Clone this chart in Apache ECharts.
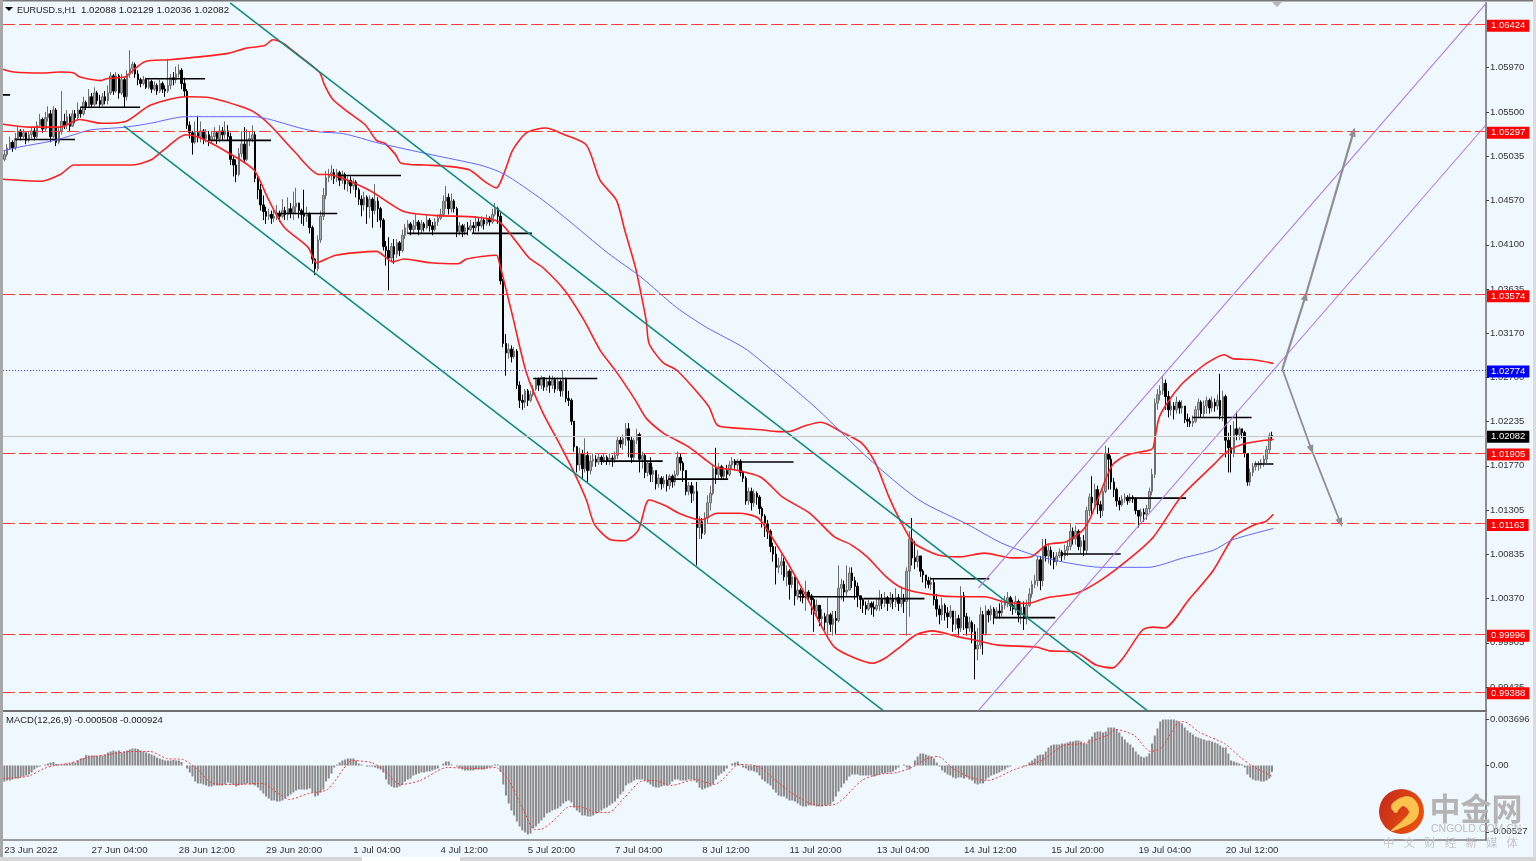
<!DOCTYPE html>
<html>
<head>
<meta charset="utf-8">
<title>EURUSD.s H1</title>
<script src="https://cdn.jsdelivr.net/npm/echarts@6/dist/echarts.min.js"></script>
<style>html,body{margin:0;padding:0;background:#f0f8ff}#chart{width:1536px;height:861px}</style>
</head>
<body>
<div id="chart"></div>
<script>
// Prices are written in pips (1.0208 -> 10208); MACD in units of MACD_UNIT.
const PIP = 0.0001;
const MACD_UNIT = 0.0000795;
const firstOpen = 10500;

const timeLabels = ['23 Jun 2022','27 Jun 04:00','28 Jun 12:00','29 Jun 20:00','1 Jul 04:00','4 Jul 12:00','5 Jul 20:00','7 Jul 04:00','8 Jul 12:00','11 Jul 20:00','13 Jul 04:00','14 Jul 12:00','15 Jul 20:00','19 Jul 04:00','20 Jul 12:00'];
const priceTicks = [1.05970,1.05500,1.05035,1.04570,1.04100,1.03635,1.03170,1.02700,1.02235,1.01770,1.01305,1.00835,1.00370,0.99905,0.99435];
const macdTicks = [0.003696,0,-0.00527];

const closes = [
10505,10512,10518,10512,10522,10530,10524,10528,10520,10526,
10530,10524,10536,10542,10532,10544,10548,10524,10552,10518,
10530,10540,10536,10545,10535,10548,10544,10552,10548,10560,
10556,10566,10558,10570,10562,10558,10566,10562,10570,10588,
10572,10588,10570,10584,10566,10590,10596,10600,10590,10584,
10580,10584,10576,10582,10574,10578,10572,10580,10574,10572,
10578,10586,10584,10590,10594,10580,10572,10536,10528,10518,
10528,10524,10530,10522,10526,10520,10524,10528,10522,10530,
10526,10530,10524,10500,10494,10484,10506,10516,10500,10520,
10522,10526,10480,10468,10452,10445,10440,10442,10438,10440,
10443,10440,10446,10442,10448,10444,10450,10454,10446,10442,
10440,10442,10428,10395,10385,10415,10440,10462,10481,10484,
10486,10480,10486,10478,10484,10474,10478,10472,10476,10468,
10458,10452,10460,10450,10458,10446,10456,10448,10436,10408,
10404,10396,10408,10400,10412,10404,10420,10428,10432,10426,
10430,10434,10426,10432,10428,10436,10430,10426,10434,10438,
10442,10456,10460,10448,10456,10448,10424,10430,10424,10428,
10426,10430,10428,10434,10430,10436,10432,10438,10434,10442,
10448,10440,10372,10306,10296,10300,10292,10298,10262,10246,
10244,10256,10246,10252,10258,10268,10262,10270,10260,10266,
10262,10268,10258,10266,10256,10268,10248,10246,10224,10197,
10178,10190,10174,10188,10172,10182,10184,10181,10186,10183,
10186,10182,10185,10184,10188,10204,10200,10206,10216,10204,
10186,10204,10210,10184,10188,10170,10180,10168,10172,10158,
10164,10158,10162,10156,10166,10160,10168,10186,10180,10172,
10150,10156,10148,10150,10112,10118,10106,10122,10138,10148,
10174,10168,10176,10166,10172,10168,10178,10182,10178,10182,
10170,10164,10140,10150,10138,10148,10144,10132,10124,10116,
10108,10092,10084,10070,10072,10076,10060,10066,10052,10060,
10040,10046,10042,10038,10044,10040,10036,10024,10030,10016,
10018,10012,10020,10010,10016,10014,10048,10052,10044,10046,
10064,10056,10050,10040,10036,10030,10026,10032,10028,10026,
10030,10036,10032,10038,10032,10036,10034,10038,10032,10036,
10034,10066,10100,10080,10076,10082,10066,10062,10056,10052,
10054,10036,10026,10020,10030,10022,10018,10024,10010,10016,
10006,10040,10018,10006,10012,10002,9984,9988,10020,10000,
10024,10020,10026,10018,10024,10022,10030,10034,10038,10030,
10026,10034,10020,10028,10016,10030,10042,10052,10056,10078,
10056,10092,10082,10088,10080,10076,10082,10086,10082,10088,
10092,10108,10100,10108,10092,10098,10088,10130,10144,10138,
10152,10136,10130,10150,10190,10184,10160,10152,10140,10136,
10142,10144,10140,10144,10142,10130,10124,10128,10126,10132,
10150,10168,10243,10252,10256,10264,10250,10236,10240,10236,
10244,10238,10240,10226,10224,10222,10224,10236,10244,10232,
10240,10246,10238,10244,10240,10246,10230,10250,10204,10196,
10190,10216,10210,10216,10212,10190,10160,10170,10176,10178,
10178,10180,10184,10194,10208.8,10208.2];

const highs = [
10510,10516,10524,10520,10528,10534,10532,10532,10528,10530,
10534,10534,10540,10548,10544,10550,10556,10552,10556,10554,
10534,10572,10548,10552,10548,10552,10552,10560,10554,10566,
10562,10574,10570,10576,10572,10568,10570,10572,10578,10592,
10590,10592,10590,10590,10586,10594,10615,10603,10602,10594,
10586,10588,10586,10586,10584,10582,10580,10584,10582,10578,
10606,10590,10592,10598,10600,10596,10586,10574,10540,10530,
10540,10546,10540,10532,10532,10530,10530,10534,10530,10536,
10534,10540,10536,10528,10504,10500,10512,10530,10534,10532,
10530,10536,10530,10482,10474,10462,10450,10448,10446,10448,
10452,10446,10458,10450,10460,10454,10466,10470,10452,10448,
10468,10450,10444,10430,10396,10420,10446,10470,10488,10490,
10494,10490,10490,10488,10488,10486,10482,10482,10480,10478,
10470,10462,10466,10462,10462,10460,10474,10460,10450,10438,
10414,10418,10412,10416,10416,10414,10426,10432,10436,10434,
10436,10442,10436,10436,10434,10442,10438,10434,10438,10442,
10448,10462,10472,10464,10464,10458,10450,10434,10432,10432,
10434,10436,10434,10440,10438,10440,10438,10442,10440,10448,
10454,10450,10444,10374,10316,10306,10304,10302,10300,10266,
10252,10258,10258,10256,10262,10270,10270,10272,10270,10270,
10272,10272,10270,10270,10268,10278,10270,10256,10248,10224,
10198,10196,10194,10206,10192,10188,10190,10188,10190,10188,
10190,10188,10190,10188,10192,10208,10208,10210,10222,10222,
10208,10206,10216,10212,10192,10190,10182,10186,10176,10172,
10168,10166,10166,10168,10168,10168,10172,10192,10190,10182,
10172,10160,10160,10156,10160,10124,10122,10128,10146,10156,
10178,10196,10180,10178,10176,10178,10182,10186,10184,10184,
10184,10172,10166,10154,10154,10152,10150,10146,10134,10126,
10120,10110,10096,10092,10080,10084,10080,10072,10068,10066,
10056,10058,10048,10046,10056,10046,10042,10038,10036,10030,
10026,10022,10038,10022,10024,10024,10072,10058,10056,10072,
10070,10070,10060,10054,10040,10038,10034,10036,10034,10034,
10038,10046,10042,10044,10040,10044,10042,10048,10042,10050,
10042,10070,10108,10122,10098,10088,10080,10068,10062,10060,
10060,10058,10042,10030,10038,10032,10028,10030,10024,10024,
10020,10050,10044,10022,10018,10014,10010,10006,10028,10024,
10030,10026,10030,10028,10028,10032,10036,10040,10044,10040,
10036,10040,10036,10034,10034,10036,10048,10056,10062,10082,
10082,10100,10100,10094,10092,10086,10086,10090,10088,10094,
10098,10116,10112,10114,10110,10102,10104,10134,10148,10166,
10158,10156,10140,10154,10198,10196,10188,10164,10154,10144,
10146,10148,10146,10148,10146,10144,10130,10132,10132,10136,
10154,10174,10248,10258,10262,10272,10268,10256,10246,10244,
10250,10246,10246,10240,10232,10228,10230,10240,10248,10246,
10246,10250,10248,10250,10248,10252,10274,10256,10252,10212,
10220,10224,10234,10218,10216,10214,10190,10174,10180,10182,
10182,10184,10188,10198,10212,10212.9];

const lows = [
10498,10503,10510,10508,10510,10520,10520,10522,10516,10518,
10522,10520,10522,10534,10528,10530,10540,10518,10522,10514,
10516,10526,10532,10532,10530,10534,10538,10542,10544,10546,
10552,10554,10554,10556,10558,10554,10556,10558,10558,10568,
10568,10570,10564,10568,10555,10562,10586,10590,10586,10578,
10576,10578,10574,10574,10570,10572,10568,10570,10570,10566,
10570,10574,10578,10580,10586,10574,10566,10532,10522,10505,
10516,10518,10518,10516,10518,10514,10516,10520,10516,10518,
10520,10522,10520,10494,10482,10476,10482,10502,10496,10498,
10514,10518,10476,10458,10446,10436,10432,10436,10432,10434,
10436,10434,10438,10436,10436,10438,10436,10442,10438,10432,
10430,10434,10422,10390,10378,10382,10412,10436,10458,10476,
10478,10474,10476,10472,10474,10468,10466,10464,10468,10460,
10452,10440,10446,10432,10438,10428,10442,10434,10428,10404,
10388,10362,10392,10390,10396,10398,10402,10416,10422,10420,
10422,10426,10420,10422,10424,10426,10424,10420,10424,10430,
10436,10440,10448,10442,10444,10444,10418,10420,10418,10420,
10420,10424,10422,10424,10424,10428,10426,10430,10430,10432,
10440,10432,10368,10302,10272,10290,10286,10290,10258,10238,
10236,10238,10240,10244,10250,10256,10256,10258,10256,10256,
10254,10258,10254,10256,10250,10250,10244,10240,10220,10192,
10170,10172,10162,10170,10160,10168,10176,10176,10178,10178,
10180,10178,10178,10176,10180,10184,10196,10194,10198,10186,
10180,10182,10200,10170,10174,10164,10166,10160,10160,10152,
10154,10152,10154,10150,10152,10154,10156,10166,10172,10160,
10146,10146,10138,10140,10072,10100,10100,10104,10116,10130,
10146,10158,10162,10162,10162,10164,10166,10174,10174,10172,
10166,10160,10136,10136,10130,10134,10136,10126,10112,10102,
10100,10086,10076,10052,10064,10062,10056,10050,10036,10048,
10030,10036,10034,10032,10024,10034,10020,10002,10018,10008,
10008,10004,9998,10002,9998,10000,10012,10036,10034,10040,
10052,10048,10036,10028,10026,10022,10020,10024,10020,10018,
10024,10024,10026,10028,10024,10028,10026,10028,10024,10028,
10022,9998,10018,10072,10068,10070,10060,10054,10048,10048,
10046,10030,10018,10010,10014,10014,10006,10016,10002,10004,
9998,10002,10004,9998,10002,9990,9952,9972,9984,9978,
9998,10012,10014,10010,10016,10016,10018,10026,10028,10024,
10020,10022,10012,10010,10004,10010,10028,10038,10048,10050,
10046,10050,10076,10074,10072,10068,10072,10080,10076,10078,
10082,10088,10094,10094,10088,10084,10082,10084,10124,10126,
10134,10126,10122,10124,10148,10152,10152,10144,10134,10130,
10134,10138,10136,10138,10138,10126,10112,10118,10118,10120,
10128,10146,10164,10236,10246,10252,10236,10228,10230,10226,
10232,10232,10232,10222,10218,10218,10218,10222,10228,10228,
10228,10232,10232,10234,10234,10236,10226,10224,10186,10170,
10170,10186,10204,10204,10206,10186,10156,10156,10166,10172,
10172,10174,10176,10180,10190,10203.6];

const macdHist = [
-16,-15,-15,-14,-13,-13,-12,-11,-10,-9,
-7,-4,-2,-1,0,1,2,3,3.5,1.5,
1,1,1.5,2,2,3,3,5,7,7.5,
10.5,10,10,10,9.5,9.5,10,11,13,14,
15,14,15,13,14,15,16,17,17,16.5,
15,14,13,12,11,10,8,7,6,5,
5,5,5.5,5,5,3.5,0,-3,-7,-11,
-16,-18,-18,-19,-20,-21,-21,-20,-20,-20,
-20,-19,-17,-18,-19,-21,-20,-19,-19,-18,
-19,-19,-20,-22,-25,-28,-31,-33,-35,-35,
-36,-36,-35,-33,-31,-29,-27,-25,-24,-24,
-24,-24,-23,-27,-31,-30,-27,-24,-16,-13,
-8,-2,1,3,5,6,7,7,7,5,
2,1,0,-1,-1,-1,-2,-3,-4,-7,
-14,-19,-21,-22,-22,-21,-19,-16,-14,-13,
-10,-9,-8,-7,-7,-6,-6,-5,-4,-3,
0,2,4,4,1,0,-1,-3,-4,-5,
-5,-5,-5,-4,-4,-4,-4,-3,-2,-1,
1,1,-6,-19,-30,-38,-45,-50,-56,-61,
-65,-67,-69,-68,-63,-61,-58,-55,-52,-48,
-47,-45,-44,-43,-41,-38,-36,-35,-37,-42,
-45,-47,-50,-50,-51,-51,-50,-48,-47,-45,
-43,-42,-40,-38,-36,-33,-29,-26,-20,-18,
-17,-15,-14,-14,-14,-15,-17,-19,-21,-22,
-22,-21,-20,-20,-19,-16,-14,-14,-15,-15,
-15,-14,-14,-15,-17,-22,-24,-23,-22,-21,
-19,-14,-10,-8,-6,-3,0,2,3,4,
1,-2,-3,-5,-5,-6,-7,-10,-14,-16,
-18,-20,-24,-27,-30,-31,-31,-33,-35,-35,
-36,-38,-40,-41,-41,-40,-40,-40,-41,-41,
-41,-40,-40,-39,-36,-31,-26,-22,-18,-15,
-11,-9,-9,-9,-10,-10,-10,-10,-10,-11,
-10,-9,-8,-8,-7,-7,-6,-4,-2,0,
1,-2,-4,0,5,9,12,12,11,10,
9,7,3,-1,-5,-7,-9,-10,-12,-13,
-12,-12,-13,-12,-14,-15,-18,-19,-18,-18,
-14,-12,-10,-9,-8,-7,-5,-4,-2,-1,
0,0,0,0,-1,0,3,5,7,10,
11,11,14,18,20,21,21,21,22,22,
23,24,24,25,25,24,22,22,26,29,
33,34,34,33,34,38,38,38,36,33,
29,26,23,21,18,14,11,9,8,9,
12,22,30,37,44,46,46,46,46,46,
45,44,42,38,35,33,31,29,28,27,
26,25,25,24,23,22,20,18,18,12,
5,4,3,2,1,-2,-9,-12,-14,-15,
-15,-16,-16,-15,-13,-6.4];

// Indicator curves as [bar, value] knots.
const bbUpper = [[0,10595],[4,10592],[15,10591],[21,10592],[26,10591],[28,10587],[36,10583],[38,10585],[45,10587],[47,10592],[52,10603],[61,10605],[72,10608],[83,10612],[89,10617],[96,10620],[99,10626],[103,10622],[107,10613],[116,10592],[118,10578],[121,10563],[127,10549],[133,10536],[137,10520],[140,10517],[144,10505],[146,10496],[155,10494],[162,10493],[171,10489],[177,10476],[181,10470],[184,10487],[187,10510],[192,10528],[199,10533],[206,10526],[214,10515],[219,10478],[225,10457],[228,10426],[232,10386],[234,10359],[236,10329],[237,10306],[242,10286],[247,10278],[253,10260],[259,10239],[262,10220],[268,10217],[278,10215],[284,10213],[288,10213],[294,10219],[300,10223],[308,10212],[315,10201],[320,10180],[325,10144],[329,10120],[334,10096],[343,10083],[351,10081],[360,10085],[370,10080],[377,10081],[383,10094],[390,10097],[396,10109],[399,10123],[403,10152],[407,10178],[412,10188],[421,10194],[422,10197],[424,10227],[427,10243],[432,10262],[437,10275],[442,10286],[448,10294],[451,10290],[458,10289],[466,10285]];
const bbMiddle = [[0,10537],[10,10534],[21,10534],[28,10542],[36,10538],[45,10540],[54,10557],[67,10566],[76,10565],[87,10556],[92,10550],[98,10536],[107,10508],[116,10484],[119,10484],[134,10468],[147,10445],[158,10441],[174,10439],[182,10434],[187,10418],[193,10396],[198,10386],[206,10362],[213,10331],[219,10299],[225,10276],[232,10246],[236,10227],[242,10212],[247,10204],[252,10196],[257,10185],[262,10175],[268,10173],[278,10165],[286,10144],[296,10127],[305,10102],[311,10094],[317,10081],[324,10060],[330,10048],[341,10041],[351,10039],[360,10039],[368,10033],[376,10032],[383,10038],[394,10043],[403,10057],[414,10081],[422,10102],[432,10144],[444,10178],[449,10192],[455,10200],[466,10205]];
const bbLower = [[0,10479],[14,10477],[21,10484],[26,10494],[36,10494],[47,10494],[54,10499],[59,10510],[67,10526],[72,10523],[82,10508],[92,10489],[97,10460],[103,10429],[112,10407],[115,10391],[122,10399],[137,10403],[143,10392],[147,10395],[157,10391],[167,10390],[170,10395],[181,10399],[182,10392],[187,10334],[192,10275],[198,10233],[204,10201],[209,10173],[214,10141],[217,10115],[223,10099],[228,10098],[233,10109],[237,10141],[243,10135],[248,10127],[256,10120],[262,10127],[270,10127],[277,10122],[282,10102],[290,10064],[296,10032],[301,10004],[305,9986],[312,9975],[319,9969],[324,9975],[329,9986],[335,9999],[341,10003],[350,9997],[357,9993],[365,9988],[379,9986],[384,9982],[393,9981],[401,9967],[407,9964],[411,9975],[418,10004],[422,10007],[426,10006],[435,10036],[444,10067],[451,10101],[455,10109],[460,10116],[463,10118],[466,10126]];
const movingAverage = [[0,10509],[6,10513],[19,10520],[26,10526],[32,10531],[45,10534],[54,10538],[67,10545],[80,10545],[92,10545],[98,10542],[109,10533],[116,10529],[125,10527],[138,10517],[157,10505],[175,10494],[182,10487],[187,10479],[198,10457],[206,10439],[222,10401],[234,10376],[247,10344],[258,10323],[272,10301],[282,10278],[299,10236],[317,10186],[336,10141],[354,10115],[366,10096],[378,10083],[390,10075],[403,10070],[420,10070],[433,10080],[444,10088],[451,10099],[466,10111]];
const macdSignal = [[0,-13],[6,-12],[10,-10],[15,-3],[19,0],[25,2.7],[31,8],[38,10.7],[47,14],[54,14],[60,7],[66,6],[71,-3],[77,-18],[84,-19],[95,-18],[101,-28],[105,-34],[112,-28],[119,-24],[125,-3],[128,5],[135,3],[139,-3],[146,-19],[153,-15],[163,-2],[174,-3],[181,-2],[182,-4],[186,-17],[191,-45],[195,-64],[197,-64],[202,-55],[208,-41],[213,-42],[217,-47],[222,-47],[228,-32],[234,-16],[239,-15],[245,-20],[254,-14],[261,-19],[264,-14],[270,1],[277,-1],[283,-14],[289,-27],[296,-38],[300,-40],[306,-38],[315,-15],[321,-9],[328,-7],[334,-1],[339,7],[343,9],[348,-2],[354,-11],[361,-15],[371,-4],[381,5],[389,20],[396,22],[405,30],[408,36],[415,30],[421,14],[425,18],[431,43],[433,44],[439,33],[448,22],[454,8],[458,0],[466,-11.6]];

// Drawn objects: channels, arrows, daily level stubs and horizontal levels.
const tealChannels = [[[83.3,10665],[419.8,9919]],[[44.4,10535],[322.9,9919]]];
const purpleChannels = [[[357.8,10048],[544.2,10665]],[[357.8,9919],[544.2,10537]]];
const arrowsUp = [[[469.3,10279],[477.8,10356]],[[477.8,10356],[495.4,10529]]];
const arrowsDown = [[[469.3,10279],[480,10194]],[[480,10194],[490.6,10117]]];
const dayLevels = [[0,2.6,10568],[4.4,26.4,10521],[28.3,50.3,10555],[52.1,74.1,10585],[76,98.3,10520],[100.5,122.6,10443],[124,146,10483],[148.3,170.3,10422],[172,194,10422],[194.5,218,10269],[219,242,10182],[244,266,10163],[268,290,10181],[291.7,313.7,10039],[315.6,338,10037],[340,361.8,10058],[363.3,386,10017],[388.6,410,10084],[412.5,434,10143],[436.3,458,10228],[459,466,10179]];
const redLevels = [1.06424,1.05297,1.03574,1.01905,1.01163,0.99996,0.99388];
const blueLevel = 1.02774;
const lastPrice = 1.02082;
const headerSymbol = 'EURUSD.s,H1';
const headerOhlc = '1.02088 1.02129 1.02036 1.02082';
const macdCaption = 'MACD(12,26,9) -0.000508 -0.000924';
const brandName = '中金网';
const brandSite = 'CNGOLD.COM.CN';
const brandSlogan = ['中','文','财','经','新','媒','体'];

const FONT = '"Liberation Sans", Arial, sans-serif';
const BAR_SLOTS = 544;
const toPrice = p => [p[0], p[1] * PIP];
const toMacd = p => [p[0], p[1] * MACD_UNIT];

const cats = Array.from({length: BAR_SLOTS}, (_, i) => (i % 32 === 0 && timeLabels[i / 32]) || '');
const candles = closes.map((c, i) => {
  const o = i ? closes[i - 1] : firstOpen;
  return [o, c, Math.min(lows[i], o, c), Math.max(highs[i], o, c)].map(v => v * PIP);
});

const overlay = (name, data, color, width, extra) => Object.assign({
  type: 'line', name, xAxisIndex: 1, yAxisIndex: 0, data: data.map(toPrice),
  showSymbol: false, symbol: 'none', silent: true, animation: false, clip: true, z: 4,
  lineStyle: {color, width}
}, extra || {});

const levelLabel = (bg) => ({
  show: true, position: 'end', distance: 1, offset: [0, 1.5], color: '#fff', backgroundColor: bg,
  fontFamily: FONT, fontSize: 9.5, padding: [1, 4, 1, 4], lineHeight: 10,
  formatter: p => Number(p.value).toFixed(5)
});

const levelLines = [
  ...redLevels.map(v => ({yAxis: v, lineStyle: {color: '#ff3b3b', type: [12, 4], width: 1}, label: levelLabel('#ff0000')})),
  {yAxis: blueLevel, lineStyle: {color: '#3b3bff', type: [1, 2], width: 1}, label: Object.assign(levelLabel('#0000ff'), {offset: [0, 1]})},
  {yAxis: lastPrice, lineStyle: {color: '#c6c6c6', type: 'solid', width: 1}, label: Object.assign(levelLabel('#000000'), {offset: [0, 0.5]})}
];

const arrowSeries = (name, segs, width) => ({
  type: 'line', name, xAxisIndex: 1, yAxisIndex: 0, data: [], silent: true, animation: false, z: 5,
  markLine: {
    silent: true, animation: false, symbol: ['none', 'triangle'], symbolSize: [7, 9],
    lineStyle: {color: '#8f8f8f', width, type: 'solid'}, label: {show: false},
    data: segs.map(s => [{coord: toPrice(s[0])}, {coord: toPrice(s[1])}])
  }
});

const curve = {smooth: 0.25};
const series = [
  {
    type: 'line', name: 'levels', xAxisIndex: 1, yAxisIndex: 0, data: [], silent: true, animation: false, z: 2,
    markLine: {silent: true, animation: false, symbol: 'none', precision: 5, data: levelLines}
  },
  {
    type: 'candlestick', name: 'EURUSD.s', xAxisIndex: 0, yAxisIndex: 0, data: candles, barWidth: 2,
    silent: true, animation: false, large: false, progressive: 0, z: 3,
    itemStyle: {color: '#a9a9a9', color0: '#000000', borderColor: '#6e6e6e', borderColor0: '#000000', borderWidth: 1}
  },
  ...dayLevels.map((d, i) => overlay('day' + i, [[d[0], d[2]], [d[1], d[2]]], '#000000', 1.6)),
  overlay('BB upper', bbUpper, '#ff1f1f', 1.6, curve),
  overlay('BB middle', bbMiddle, '#ff1f1f', 1.6, curve),
  overlay('BB lower', bbLower, '#ff1f1f', 1.6, curve),
  overlay('MA', movingAverage, '#6464ff', 1, curve),
  ...tealChannels.map((l, i) => overlay('channel' + i, l, '#0e8a7c', 1.5)),
  ...purpleChannels.map((l, i) => overlay('rising' + i, l, '#b07ce8', 1.1)),
  arrowSeries('up', arrowsUp, 2.2),
  arrowSeries('down', arrowsDown, 1.8),
  {
    type: 'bar', name: 'MACD', xAxisIndex: 2, yAxisIndex: 1, data: macdHist.map(v => v * MACD_UNIT), barWidth: 2,
    silent: true, animation: false, large: false, itemStyle: {color: '#8a8a8a'}
  },
  {
    type: 'line', name: 'Signal', xAxisIndex: 3, yAxisIndex: 1, data: macdSignal.map(toMacd), showSymbol: false,
    symbol: 'none', silent: true, animation: false, z: 4, smooth: 0.25, lineStyle: {color: '#f23c3c', width: 1, type: [2, 2]}
  }
];

const text = (x, y, s, size, color, extra) => ({
  type: 'text', x, y, silent: true, z: 50,
  style: Object.assign({text: s, fontFamily: FONT, fontSize: size, fill: color, textVerticalAlign: 'middle'}, extra || {})
});
const rect = (x, y, width, height, fill) => ({type: 'rect', silent: true, z: 40, shape: {x, y, width, height}, style: {fill}});

const graphic = [
  rect(0, 0, 1536, 1.5, '#777777'),
  rect(0, 0, 3, 861, '#a8a8a8'),
  rect(1533, 0, 3, 861, '#dcdcdc'),
  rect(0, 857, 1536, 4, '#d6d6d6'),
  rect(362, 857, 98, 4, '#ffffff'),
  {type: 'polygon', silent: true, z: 50, shape: {points: [[5, 7], [13, 7], [9, 11]]}, style: {fill: '#000'}},
  {type: 'polygon', silent: true, z: 50, shape: {points: [[1272, 2], [1282, 2], [1277, 7]]}, style: {fill: '#b5b5b5'}},
  text(17, 10.5, headerSymbol, 9, '#1a1a1a'),
  text(81, 10.5, headerOhlc, 9.7, '#1a1a1a'),
  text(6, 720.5, macdCaption, 9.5, '#1a1a1a'),
  // brand mark
  {type: 'circle', silent: true, z: 45, shape: {cx: 1401.5, cy: 811.5, r: 22.5}, style: {
    fill: {type: 'linear', x: 0, y: 0, x2: 1, y2: 0.4, colorStops: [{offset: 0, color: '#c4281c'}, {offset: 1, color: '#e8500f'}]}}},
  {type: 'polygon', silent: true, z: 46, shape: {smooth: 0.35, points: [[1391, 806], [1400, 798], [1411, 797], [1418, 805], [1418, 816], [1410, 824], [1391, 831], [1403, 820], [1409, 812], [1403, 806], [1396, 813]]}, style: {fill: '#fcc24e'}},
  {type: 'polyline', silent: true, z: 47, shape: {smooth: 0.5, points: [[1398, 813], [1402, 808], [1406, 811], [1402, 816]]}, style: {fill: 'none', stroke: '#d8391a', lineWidth: 1.6}},
  text(1429.5, 808, brandName, 31, '#b4b4b4', {fontFamily: '"Noto Sans CJK SC"', fontWeight: 'bold'}),
  text(1431, 829.5, brandSite, 10.5, '#bdbdbd'),
  ...brandSlogan.map((c, i) => text(1383 + 20.6 * i, 843, c, 11.5, '#c4c4c4', {fontFamily: '"Noto Sans CJK SC"'}))
];

const chart = echarts.init(document.getElementById('chart'), null, {renderer: 'canvas'});
const axisText = {color: '#333333', fontFamily: FONT, fontSize: 9.5};
chart.setOption({
  backgroundColor: '#f0f8ff',
  animation: false,
  tooltip: {show: false},
  legend: {show: false},
  grid: [
    {left: 3, width: 1483, top: 3, height: 708, containLabel: false},
    {left: 3, width: 1483, top: 713, height: 127, containLabel: false}
  ],
  xAxis: [
    {type: 'category', gridIndex: 0, data: cats, boundaryGap: true, axisLine: {onZero: false, lineStyle: {color: '#6f6f6f', width: 2}}, axisTick: {show: false}, axisLabel: {show: false}, splitLine: {show: false}},
    {type: 'value', gridIndex: 0, min: 0, max: BAR_SLOTS, show: false},
    {type: 'category', gridIndex: 1, data: cats, boundaryGap: true,
      axisLine: {onZero: false, lineStyle: {color: '#7c7c7c', width: 1.5}},
      axisTick: {alignWithLabel: true, length: 3, interval: i => i % 32 === 0, lineStyle: {color: '#444'}},
      axisLabel: Object.assign({interval: i => i % 32 === 0 && !!cats[i], align: 'left', margin: 5, showMinLabel: true, hideOverlap: false}, axisText, {fontSize: 9.7}),
      splitLine: {show: false}},
    {type: 'value', gridIndex: 1, min: 0, max: BAR_SLOTS, show: false}
  ],
  yAxis: [
    {type: 'value', gridIndex: 0, position: 'right', min: 0.99186, max: 1.06648, scale: true, splitLine: {show: false},
      axisLine: {show: true, onZero: false, lineStyle: {color: '#8d8d8d', width: 2}},
      axisTick: {show: true, length: 3, customValues: priceTicks, lineStyle: {color: '#444'}},
      axisLabel: Object.assign({customValues: priceTicks, margin: 4, padding: [2, 0, 0, 0], formatter: v => v.toFixed(5)}, axisText)},
    {type: 'value', gridIndex: 1, position: 'right', min: -0.005923, max: 0.004174, scale: true, splitLine: {show: false},
      axisLine: {show: true, onZero: false, lineStyle: {color: '#8d8d8d', width: 2}},
      axisTick: {show: true, length: 3, customValues: macdTicks, lineStyle: {color: '#444'}},
      axisLabel: Object.assign({customValues: macdTicks, margin: 4, padding: [2, 0, 0, 0], formatter: v => v === 0 ? '0.00' : String(v)}, axisText)}
  ],
  series,
  graphic
});
</script>
</body>
</html>
